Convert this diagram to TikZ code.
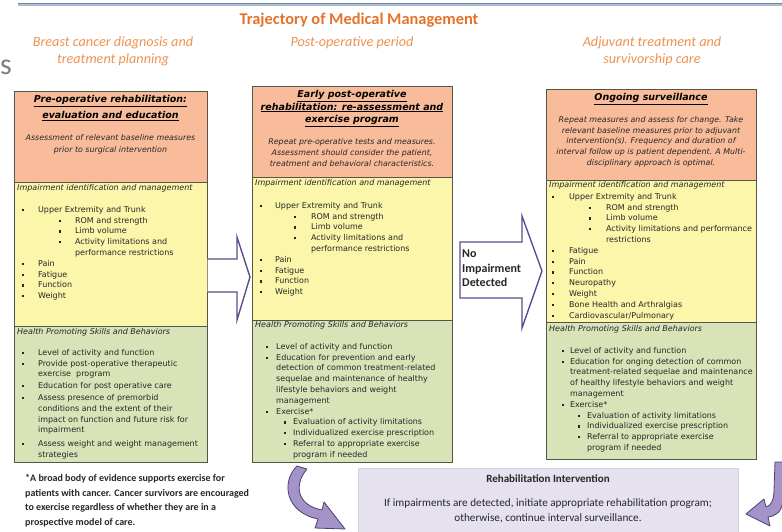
\documentclass[tikz,border=0pt]{standalone}
\usepackage{fontspec}
\setmainfont{Carlito}
\newfontfamily\boxfont{DejaVu Sans}

\definecolor{hdrorange}{HTML}{F8BC9A}
\definecolor{impyellow}{HTML}{FBF6AA}
\definecolor{hpgreen}{HTML}{D8E4B8}
\definecolor{boxline}{HTML}{55554A}
\definecolor{titleorange}{HTML}{E4732A}
\definecolor{phaseorange}{HTML}{EC9350}
\definecolor{arrowpurple}{HTML}{5E4C8C}
\definecolor{curvefill}{HTML}{A493C8}
\definecolor{curveedge}{HTML}{4E3F74}
\definecolor{rehabfill}{HTML}{E6E1EE}
\definecolor{rehabedge}{HTML}{D6CFE2}
\definecolor{txtgray}{HTML}{262626}
\definecolor{rulelight}{HTML}{A9BCD2}
\definecolor{ruledark}{HTML}{7088A8}

% square bullet and indented bullet
\newcommand{\sqb}{\raisebox{1.3pt}{\rule{2.2pt}{2.2pt}}}
\newcommand{\bul}[2]{\hspace*{#1}\makebox[#2][l]{\sqb}}

\tikzset{
  sect/.style={draw=boxline, line width=0.8pt},
  boxtitle/.style={font=\boxfont\bfseries\itshape\fontsize{9.5}{#1}\selectfont, align=center, anchor=north, inner sep=0pt, text=black},
  boxsub/.style={font=\boxfont\itshape\fontsize{7.9}{#1}\selectfont, align=center, anchor=north, inner sep=0pt, text=txtgray},
  listhead/.style={font=\boxfont\itshape\fontsize{8}{10.8}\selectfont, anchor=north west, inner sep=0pt, text=txtgray},
  itemlist/.style={font=\boxfont\fontsize{8}{10.8}\selectfont, align=left, anchor=north west, inner sep=0pt, text=txtgray},
  phase/.style={font=\itshape\fontsize{14.2}{17}\selectfont, text=phaseorange, align=center, inner sep=0pt},
  blockarrow/.style={draw=arrowpurple, line width=1.4pt, fill=white, line join=miter},
  curlarrow/.style={draw=curveedge, fill=curvefill, line width=0.8pt, line join=round}
}

\begin{document}
\begin{tikzpicture}[x=1pt,y=-1pt]
\useasboundingbox (0,0) rectangle (782,531);

% rule and headings
\draw[rulelight, line width=3pt] (18,4) -- (782,4);
\draw[ruledark, line width=0.8pt] (18,3) -- (782,3);
\node[font=\bfseries\fontsize{16.4}{18}\selectfont, text=titleorange] (title) at (359,20) {Trajectory of Medical Management};
\node[phase] (phasepre) at (113,51.5) {Breast cancer diagnosis and\\treatment planning};
\node[phase] (phasepost) at (352,43) {Post-operative period};
\node[phase] (phaseadj) at (652,51.5) {Adjuvant treatment and\\survivorship care};
\node[font=\fontsize{30}{30}\selectfont, text=gray, anchor=base west, inner sep=0pt] (sfrag) at (0,74) {s};

% column 1
\draw[sect, fill=hdrorange] (14,91) rectangle (207,182);
\draw[sect, fill=impyellow] (14,182) rectangle (207,326);
\draw[sect, fill=hpgreen] (14,326) rectangle (207,462);
\node[boxtitle=15.7] (pretitle) at (110.5,95.5) {\underline{Pre-operative rehabilitation:}\\\underline{evaluation and education}};
\node[boxsub=12.3] (presub) at (110.5,134.3) {Assessment of relevant baseline measures\\prior to surgical intervention};
\node[listhead] (preimp) at (17,184) {Impairment identification and management};
\node[itemlist] (preimplist) at (21.9,206) {\bul{0pt}{16pt}Upper Extremity and Trunk\\
\bul{37pt}{16pt}ROM and strength\\
\bul{37pt}{16pt}Limb volume\\
\bul{37pt}{16pt}Activity limitations and\\
\hspace*{53pt}performance restrictions\\
\bul{0pt}{16pt}Pain\\
\bul{0pt}{16pt}Fatigue\\
\bul{0pt}{16pt}Function\\
\bul{0pt}{16pt}Weight};
\node[listhead] (prehp) at (17,328) {Health Promoting Skills and Behaviors};
\node[itemlist] (prehplist) at (21.9,349) {\bul{0pt}{16pt}Level of activity and function\\
\bul{0pt}{16pt}Provide post-operative therapeutic\\
\hspace*{16pt}exercise\ \ program\\[1pt]
\bul{0pt}{16pt}Education for post operative care\\[1pt]
\bul{0pt}{16pt}Assess presence of premorbid\\
\hspace*{16pt}conditions and the extent of their\\
\hspace*{16pt}impact on function and future risk for\\
\hspace*{16pt}impairment\\[3pt]
\bul{0pt}{16pt}Assess weight and weight management\\
\hspace*{16pt}strategies};

% column 2
\draw[sect, fill=hdrorange] (252,86) rectangle (452,177);
\draw[sect, fill=impyellow] (252,177) rectangle (452,320);
\draw[sect, fill=hpgreen] (252,320) rectangle (452,462);
\node[boxtitle=12.2] (posttitle) at (352,90.5) {\underline{Early post-operative}\\\underline{rehabilitation: re-assessment and}\\\underline{exercise program}};
\node[boxsub=11] (postsub) at (352,138.3) {Repeat pre-operative tests and measures.\\Assessment should consider the patient,\\treatment and behavioral characteristics.};
\node[listhead] (postimp) at (255,179) {Impairment identification and management};
\node[itemlist] (postimplist) at (259.9,202) {\bul{0pt}{15pt}Upper Extremity and Trunk\\
\bul{34pt}{17pt}ROM and strength\\
\bul{34pt}{17pt}Limb volume\\
\bul{34pt}{17pt}Activity limitations and\\
\hspace*{51pt}performance restrictions\\
\bul{0pt}{15pt}Pain\\
\bul{0pt}{15pt}Fatigue\\
\bul{0pt}{15pt}Function\\
\bul{0pt}{15pt}Weight};
\node[listhead] (posthp) at (255,321) {Health Promoting Skills and Behaviors};
\node[itemlist] (posthplist) at (265.6,343) {\bul{0pt}{10.4pt}Level of activity and function\\
\bul{0pt}{10.4pt}Education for prevention and early\\
\hspace*{10.4pt}detection of common treatment-related\\
\hspace*{10.4pt}sequelae and maintenance of healthy\\
\hspace*{10.4pt}lifestyle behaviors and weight\\
\hspace*{10.4pt}management\\
\bul{0pt}{10.4pt}Exercise*\\
\bul{18.3pt}{9pt}Evaluation of activity limitations\\
\bul{18.3pt}{9pt}Individualized exercise prescription\\
\bul{18.3pt}{9pt}Referral to appropriate exercise\\
\hspace*{27.3pt}program if needed};

% column 3
\draw[sect, fill=hdrorange] (546,89) rectangle (756,180);
\draw[sect, fill=impyellow] (546,180) rectangle (756,322);
\draw[sect, fill=hpgreen] (546,322) rectangle (756,459);
\node[boxtitle=12] (survtitle) at (651,93.5) {\underline{Ongoing surveillance}};
\node[boxsub=10.8] (survsub) at (651,116) {Repeat measures and assess for change. Take\\relevant baseline measures prior to adjuvant\\intervention(s). Frequency and duration of\\interval follow up is patient dependent. A Multi-\\disciplinary approach is optimal.};
\node[listhead] (survimp) at (549,181) {Impairment identification and management};
\node[itemlist] (survimplist) at (551.9,193) {\bul{0pt}{17pt}Upper Extremity and Trunk\\
\bul{37pt}{17pt}ROM and strength\\
\bul{37pt}{17pt}Limb volume\\
\bul{37pt}{17pt}Activity limitations and performance\\
\hspace*{54pt}restrictions\\
\bul{0pt}{17pt}Fatigue\\
\bul{0pt}{17pt}Pain\\
\bul{0pt}{17pt}Function\\
\bul{0pt}{17pt}Neuropathy\\
\bul{0pt}{17pt}Weight\\
\bul{0pt}{17pt}Bone Health and Arthralgias\\
\bul{0pt}{17pt}Cardiovascular/Pulmonary};
\node[listhead] (survhp) at (549,325) {Health Promoting Skills and Behaviors};
\node[itemlist] (survhplist) at (561.9,347) {\bul{0pt}{8pt}Level of activity and function\\
\bul{0pt}{8pt}Education for onging detection of common\\
\hspace*{8pt}treatment-related sequelae and maintenance\\
\hspace*{8pt}of healthy lifestyle behaviors and weight\\
\hspace*{8pt}management\\
\bul{0pt}{8pt}Exercise*\\
\bul{16pt}{9pt}Evaluation of activity limitations\\
\bul{16pt}{9pt}Individualized exercise prescription\\
\bul{16pt}{9pt}Referral to appropriate exercise\\
\hspace*{25pt}program if needed};

% block arrows
\draw[blockarrow] (207.5,259) -- (237,259) -- (237,237) -- (250,277) -- (237,320) -- (237,292) -- (207.5,292);
\draw[blockarrow] (460,242) -- (522,242) -- (522,216) -- (542,271) -- (522,328) -- (522,298) -- (460,298) -- cycle;
\node[font=\bfseries\fontsize{12}{14.3}\selectfont, align=left, anchor=north west, inner sep=0pt, text=txtgray] (noimp) at (462,250) {No\\Impairment\\Detected};

% rehabilitation intervention
\draw[draw=rehabedge, fill=rehabfill] (358,468) rectangle (738,536);
\node[font=\bfseries\fontsize{11}{12}\selectfont, text=txtgray] (rehabtitle) at (548,479) {Rehabilitation Intervention};
\node[font=\fontsize{11.2}{15}\selectfont, align=center, text=txtgray] (rehabtext) at (548,510.5) {If impairments are detected, initiate appropriate rehabilitation program;\\otherwise, continue interval surveillance.};

% footnote
\node[font=\bfseries\fontsize{10}{14.5}\selectfont, align=left, anchor=north west, inner sep=0pt, text=txtgray] (footnote) at (25,474.5) {*A broad body of evidence supports exercise for\\patients with cancer. Cancer survivors are encouraged\\to exercise regardless of whether they are in a\\prospective model of care.};

% curved arrows
\draw[curlarrow] (297,466) .. controls (281,482) and (285,512) .. (318,519) -- (315,528) -- (345,529) -- (324,502) -- (322,510) .. controls (296,505) and (294,484) .. (307,469) -- cycle;
\draw[curlarrow] (775,462) -- (783,462) -- (783,500) .. controls (782,512) and (776,516) .. (768,517) -- (770,526) -- (746,514) -- (764,499) -- (766,507) .. controls (771,506) and (774,500) .. (774,490) -- cycle;
\end{tikzpicture}
\end{document}
